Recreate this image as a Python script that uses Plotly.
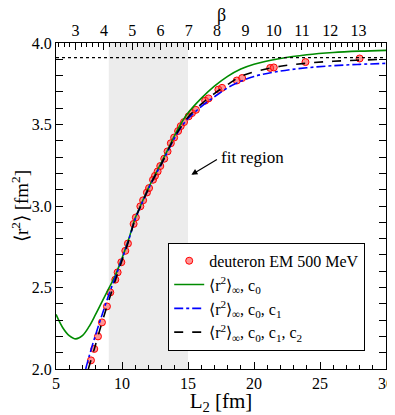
import plotly.graph_objects as go

# deuteron EM 500 MeV data: L2 [fm] and <r^2> [fm^2]
data_L = [7.65, 7.9, 8.18, 8.48, 8.86, 9.11, 9.49, 9.67, 9.95, 10.25, 10.45, 10.88, 11.05,
          11.39, 11.6, 11.89, 12.05, 12.35, 12.5, 12.7, 12.9, 13.2, 13.45, 13.7, 13.95,
          14.25, 14.45, 14.7, 15.05, 15.3, 15.6, 16.3, 16.56, 17.3, 17.58, 18.7, 19.1,
          21.23, 21.5, 23.9, 28.0]
data_r2 = [2.053, 2.123, 2.20, 2.286, 2.384, 2.47, 2.548, 2.593, 2.655, 2.725, 2.77, 2.89, 2.93,
           2.998, 3.035, 3.083, 3.11, 3.161, 3.185, 3.212, 3.245, 3.29, 3.335, 3.385, 3.42,
           3.46, 3.49, 3.515, 3.55, 3.57, 3.59, 3.646, 3.66, 3.714, 3.725, 3.77, 3.785,
           3.847, 3.85, 3.883, 3.905]

# fit curves
c0_L = [5.0, 5.5, 6.0, 6.5, 7.0, 7.5, 8.0, 8.5, 9.0, 9.5, 10.0, 10.5, 11.0, 11.5, 12.0, 12.5,
        13.0, 13.5, 14.0, 14.5, 15.0, 16.0, 17.0, 18.0, 19.0, 20.0, 22.0, 24.0, 26.0, 28.0, 30.0]
c0_r2 = [2.335, 2.255, 2.205, 2.185, 2.205, 2.26, 2.335, 2.415, 2.495, 2.575, 2.68, 2.795, 2.925,
         3.02, 3.11, 3.19, 3.27, 3.35, 3.435, 3.51, 3.57, 3.66, 3.735, 3.795, 3.84, 3.87, 3.905,
         3.928, 3.942, 3.95, 3.955]

c01_L = [7.25, 7.5, 8.0, 8.5, 9.0, 9.5, 10.0, 10.5, 11.0, 11.5, 12.0, 12.5, 13.0, 13.5, 14.0,
         14.5, 15.0, 16.0, 17.0, 18.0, 19.0, 20.0, 22.0, 24.0, 26.0, 28.0, 30.0]
c01_r2 = [2.0, 2.075, 2.21, 2.335, 2.455, 2.565, 2.675, 2.79, 2.92, 3.015, 3.105, 3.185, 3.26,
          3.34, 3.42, 3.485, 3.535, 3.61, 3.67, 3.725, 3.765, 3.795, 3.828, 3.848, 3.861, 3.869, 3.875]

c012_L = [7.45, 8.0, 8.5, 9.0, 9.5, 10.0, 10.5, 11.0, 11.5, 12.0, 12.5, 13.0, 13.5, 14.0, 14.5,
          15.0, 16.0, 17.0, 18.0, 19.0, 20.0, 22.0, 24.0, 26.0, 28.0, 30.0]
c012_r2 = [2.0, 2.15, 2.29, 2.42, 2.545, 2.665, 2.785, 2.92, 3.015, 3.105, 3.185, 3.26, 3.345,
           3.425, 3.49, 3.545, 3.625, 3.69, 3.745, 3.795, 3.823, 3.857, 3.876, 3.888, 3.895, 3.90]

fit_region = [9, 15]
r2_inf = 3.91
beta_range = [2.307, 13.97]

font = "Liberation Serif, Times New Roman, serif"

fig = go.Figure()

fig.add_trace(go.Scatter(x=data_L, y=data_r2, mode="markers", name="deuteron EM 500 MeV",
                         marker=dict(symbol="circle", size=7, color="rgba(255,60,60,0.55)",
                                     line=dict(color="#ff0000", width=1))))
fig.add_trace(go.Scatter(x=c0_L, y=c0_r2, mode="lines", line_shape="spline",
                         name="⟨r<sup>2</sup>⟩<sub>∞</sub>, c<sub>0</sub>",
                         line=dict(color="#008b00", width=1.6)))
fig.add_trace(go.Scatter(x=c01_L, y=c01_r2, mode="lines", line_shape="spline",
                         name="⟨r<sup>2</sup>⟩<sub>∞</sub>, c<sub>0</sub>, c<sub>1</sub>",
                         line=dict(color="#0000ff", width=1.6, dash="dashdot")))
fig.add_trace(go.Scatter(x=c012_L, y=c012_r2, mode="lines", line_shape="spline",
                         name="⟨r<sup>2</sup>⟩<sub>∞</sub>, c<sub>0</sub>, c<sub>1</sub>, c<sub>2</sub>",
                         line=dict(color="black", width=1.6, dash="dash")))
# dummy trace so the top beta axis is drawn
fig.add_trace(go.Scatter(x=beta_range, y=[2, 2], xaxis="x2", mode="markers",
                         marker=dict(opacity=0), showlegend=False, hoverinfo="skip"))

fig.add_shape(type="rect", x0=fit_region[0], x1=fit_region[1], y0=0, y1=1,
              xref="x", yref="paper", fillcolor="#ececec", line_width=0, layer="below")
fig.add_shape(type="line", x0=0, x1=1, y0=r2_inf, y1=r2_inf, xref="paper", yref="y",
              line=dict(color="black", width=1.2, dash="dot"))

fig.add_annotation(x=15.26, y=3.192, ax=27, ay=-16, text="", showarrow=True,
                   arrowhead=2, arrowsize=1, arrowwidth=1.2, arrowcolor="black")
fig.add_annotation(x=19.87, y=3.30, text="fit region", showarrow=False,
                   font=dict(family=font, size=17, color="black"))
# top axis title
fig.add_annotation(x=0.5, y=1, xref="paper", yref="paper", yshift=28, text="β",
                   showarrow=False, yanchor="middle", font=dict(family=font, size=18, color="black"))

axis_common = dict(showline=True, linecolor="black", linewidth=1, ticks="inside",
                   ticklen=7, tickcolor="black", showgrid=False, zeroline=False,
                   automargin=False,
                   tickfont=dict(family=font, size=16, color="black"))

# the page body has an 8px margin, so the figure is 8px smaller and shifted
fig.update_layout(
    width=387, height=407,
    margin=dict(l=48, r=9, t=35, b=46),
    paper_bgcolor="white", plot_bgcolor="white",
    font=dict(family=font, size=16, color="black"),
    xaxis=dict(range=[5, 30], dtick=5, mirror=True,
               minor=dict(dtick=1, ticklen=4, ticks="inside", tickcolor="black"),
               title=dict(text="L<sub>2</sub> [fm]", font=dict(family=font, size=21), standoff=2),
               **axis_common),
    xaxis2=dict(range=beta_range, dtick=1, overlaying="x", side="top",
                minor=dict(dtick=0.2, ticklen=4, ticks="inside", tickcolor="black"),
                **axis_common),
    yaxis=dict(range=[2, 4], dtick=0.5, tickformat=".1f", mirror="allticks",
               minor=dict(dtick=0.1, ticklen=4, ticks="inside", tickcolor="black"),
               title=dict(text="⟨r<sup>2</sup>⟩ [fm<sup>2</sup>]", font=dict(family=font, size=19),
                          standoff=2),
               **axis_common),
    legend=dict(x=0.34, y=0.387, xanchor="left", yanchor="top", bgcolor="white",
                bordercolor="black", borderwidth=1, font=dict(family=font, size=16),
                tracegroupgap=0),
    showlegend=True,
)

fig.write_html("out.html")
